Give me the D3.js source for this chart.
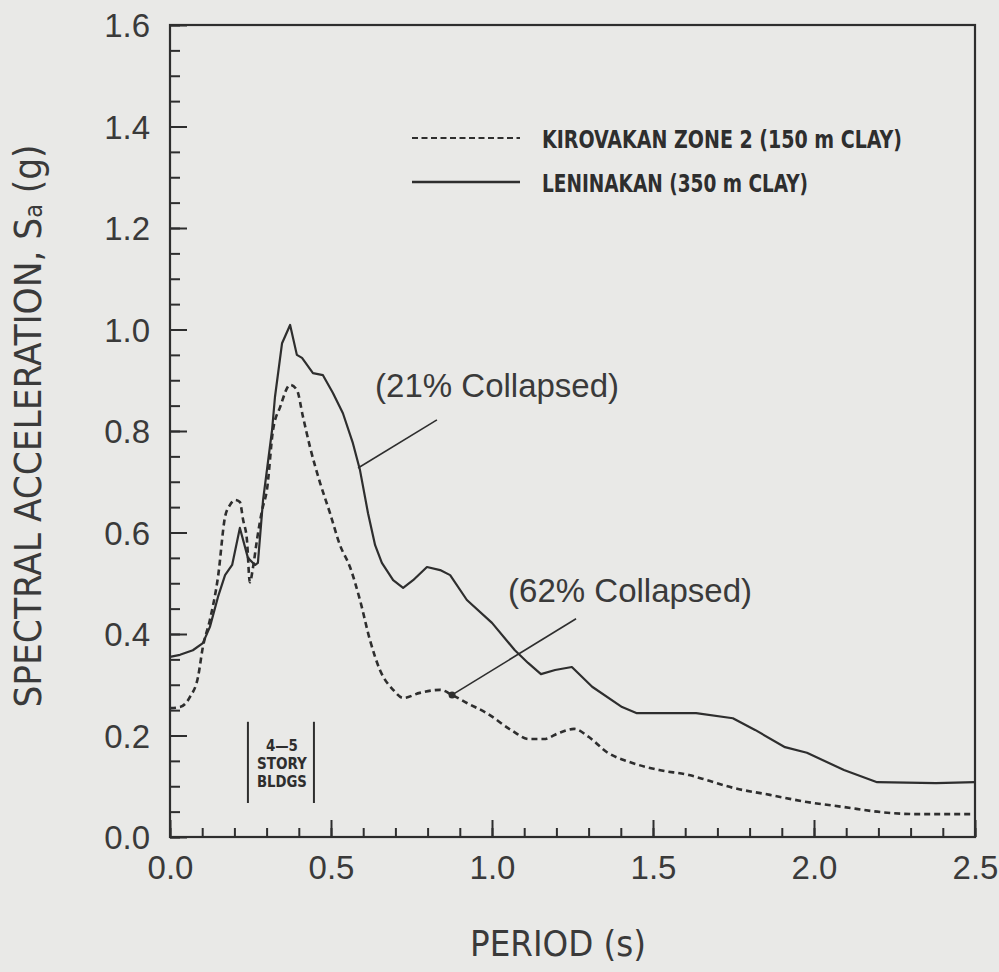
<!DOCTYPE html>
<html>
<head>
<meta charset="utf-8">
<script src="https://cdn.jsdelivr.net/npm/d3@7"></script>
<style>
  html, body { margin: 0; background: #e9e9e7; }
  svg { display: block; }
</style>
</head>
<body>
<div id="chart"></div>
<script>
// Leninakan (350 m clay) - solid
const leninakanT = [0, 0.031, 0.071, 0.102, 0.124, 0.149, 0.171, 0.193, 0.217, 0.242, 0.264, 0.273,
  0.289, 0.317, 0.326, 0.348, 0.373, 0.394, 0.41, 0.444, 0.475, 0.506, 0.537, 0.568, 0.59, 0.615,
  0.637, 0.658, 0.693, 0.724, 0.755, 0.798, 0.839, 0.87, 0.922, 1.0, 1.071, 1.112, 1.152, 1.196,
  1.248, 1.311, 1.404, 1.45, 1.519, 1.634, 1.748, 1.817, 1.91, 1.978, 2.093, 2.196, 2.379, 2.5];
const leninakanSa = [0.355, 0.359, 0.368, 0.382, 0.414, 0.473, 0.516, 0.536, 0.609, 0.55, 0.536, 0.54,
  0.664, 0.802, 0.867, 0.973, 1.009, 0.95, 0.944, 0.914, 0.91, 0.875, 0.835, 0.776, 0.723, 0.638,
  0.575, 0.54, 0.506, 0.491, 0.506, 0.532, 0.526, 0.516, 0.467, 0.422, 0.368, 0.343, 0.321, 0.329,
  0.335, 0.296, 0.256, 0.244, 0.244, 0.244, 0.234, 0.211, 0.177, 0.166, 0.132, 0.108, 0.106, 0.108];

// Kirovakan zone 2 (150 m clay) - dashed
const kirovakanT = [0, 0.031, 0.062, 0.087, 0.102, 0.124, 0.149, 0.171, 0.186, 0.202, 0.217, 0.227,
  0.239, 0.248, 0.258, 0.27, 0.286, 0.301, 0.32, 0.342, 0.373, 0.394, 0.413, 0.435, 0.466, 0.497,
  0.528, 0.559, 0.59, 0.621, 0.652, 0.693, 0.724, 0.776, 0.839, 0.876, 0.922, 0.984, 1.059, 1.115,
  1.161, 1.208, 1.255, 1.301, 1.357, 1.426, 1.519, 1.612, 1.668, 1.748, 1.863, 1.978, 2.093, 2.208,
  2.323, 2.5];
const kirovakanSa = [0.254, 0.256, 0.276, 0.315, 0.374, 0.428, 0.512, 0.631, 0.654, 0.664, 0.66, 0.625,
  0.585, 0.502, 0.532, 0.585, 0.644, 0.684, 0.802, 0.847, 0.891, 0.881, 0.828, 0.768, 0.698, 0.638,
  0.575, 0.532, 0.467, 0.388, 0.329, 0.29, 0.274, 0.284, 0.29, 0.28, 0.264, 0.244, 0.211, 0.193,
  0.193, 0.205, 0.213, 0.197, 0.167, 0.148, 0.132, 0.122, 0.112, 0.097, 0.083, 0.069, 0.059, 0.049,
  0.045, 0.045];

const yTicks = [0, 0.2, 0.4, 0.6, 0.8, 1.0, 1.2, 1.4, 1.6];
const xTicks = [0, 0.5, 1.0, 1.5, 2.0, 2.5];
const legendLabels = ["KIROVAKAN ZONE 2 (150 m CLAY)", "LENINAKAN (350 m CLAY)"];
const storyRange = [0.242, 0.447];
const storyLabels = ["4\u20145", "STORY", "BLDGS"];
// annotation: label start [T, Sa], leader from [T, Sa] to [T, Sa]
const notes = [
  { text: "(21% Collapsed)", at: [0.637, 0.867], from: [0.584, 0.727], to: [0.829, 0.822], dot: false },
  { text: "(62% Collapsed)", at: [1.05, 0.463], from: [0.876, 0.28], to: [1.261, 0.43], dot: true }
];

const width = 999, height = 972;
const ink = "#2e2e2e";

const x = d3.scaleLinear().domain([0, 2.5]).range([170, 975]);
const y = d3.scaleLinear().domain([0, 1.6]).range([837, 25]);

const svg = d3.select("#chart").append("svg")
  .attr("width", width).attr("height", height);

// minor ticks
svg.append("g")
  .attr("transform", "translate(" + x(0) + ",0)")
  .call(d3.axisLeft(y).tickValues(d3.range(0, 1.6001, 0.05)).tickSize(-10).tickSizeOuter(0).tickFormat(""))
  .call(g => g.select(".domain").remove());
svg.append("g")
  .attr("transform", "translate(0," + y(0) + ")")
  .call(d3.axisBottom(x).tickValues(d3.range(0, 2.5001, 0.1)).tickSize(-9).tickSizeOuter(0).tickFormat(""))
  .call(g => g.select(".domain").remove());

// major ticks + labels
let yAxis = svg.append("g")
  .attr("transform", "translate(" + x(0) + ",0)")
  .call(d3.axisLeft(y).tickValues(yTicks).tickSize(-17).tickSizeOuter(0).tickPadding(20).tickFormat(d3.format(".1f")));
let xAxis = svg.append("g")
  .attr("transform", "translate(0," + y(0) + ")")
  .call(d3.axisBottom(x).tickValues(xTicks).tickSize(-17).tickSizeOuter(0).tickPadding(19).tickFormat(d3.format(".1f")));

[yAxis, xAxis].forEach(g => {
  g.select(".domain").remove();
  g.selectAll("text")
    .attr("fill", "#3a3a3a")
    .style("font-family", "'Liberation Sans', Arial, sans-serif")
    .style("font-size", "33px");
});
svg.selectAll(".tick line").attr("stroke", ink).attr("stroke-width", 2);
yAxis.selectAll("text").attr("dy", "0.36em");

// frame
svg.append("rect")
  .attr("x", x(0)).attr("y", y(1.6))
  .attr("width", x(2.5) - x(0)).attr("height", y(0) - y(1.6))
  .attr("fill", "none").attr("stroke", ink).attr("stroke-width", 2.2);

// curves
const line = d3.line().x(d => x(d[0])).y(d => y(d[1]));
svg.append("path")
  .datum(d3.zip(leninakanT, leninakanSa))
  .attr("d", line)
  .attr("fill", "none").attr("stroke", ink).attr("stroke-width", 2.2)
  .attr("stroke-linejoin", "round");
svg.append("path")
  .datum(d3.zip(kirovakanT, kirovakanSa))
  .attr("d", line.curve(d3.curveMonotoneX))
  .attr("fill", "none").attr("stroke", ink).attr("stroke-width", 2.6)
  .attr("stroke-dasharray", "6,4");

// story range marks
svg.selectAll(".story")
  .data(storyRange)
  .enter().append("line")
  .attr("x1", d => x(d)).attr("x2", d => x(d))
  .attr("y1", y(0.227)).attr("y2", y(0.067))
  .attr("stroke", ink).attr("stroke-width", 2);
svg.selectAll(".storyText")
  .data(storyLabels)
  .enter().append("text")
  .attr("x", x(d3.mean(storyRange)) + 1)
  .attr("y", (d, i) => y(0.17) + i * 18)
  .attr("text-anchor", "middle")
  .attr("fill", ink)
  .style("font-family", "'DejaVu Sans Condensed', 'DejaVu Sans', sans-serif")
  .style("font-weight", "bold")
  .style("font-size", "15px")
  .attr("textLength", (d, i) => i === 0 ? 32 : 50)
  .attr("lengthAdjust", "spacingAndGlyphs")
  .text(d => d);

// annotations
notes.forEach(n => {
  svg.append("line")
    .attr("x1", x(n.from[0])).attr("y1", y(n.from[1]))
    .attr("x2", x(n.to[0])).attr("y2", y(n.to[1]))
    .attr("stroke", ink).attr("stroke-width", 1.6);
  if (n.dot) {
    svg.append("circle").attr("cx", x(n.from[0])).attr("cy", y(n.from[1])).attr("r", 3.5).attr("fill", ink);
  }
  svg.append("text")
    .attr("x", x(n.at[0])).attr("y", y(n.at[1]))
    .attr("fill", "#3a3a3a")
    .style("font-family", "'Liberation Sans', Arial, sans-serif")
    .style("font-size", "33px")
    .text(n.text);
});

// legend
const legend = svg.append("g");
const legendRows = [
  { y: 138, dash: "6,3.5", label: legendLabels[0], len: 360 },
  { y: 182, dash: null, label: legendLabels[1], len: 266 }
];
legendRows.forEach(r => {
  legend.append("line")
    .attr("x1", 412).attr("x2", 520).attr("y1", r.y).attr("y2", r.y)
    .attr("stroke", ink).attr("stroke-width", r.dash ? 2 : 2.4)
    .attr("stroke-dasharray", r.dash);
  legend.append("text")
    .attr("x", 542).attr("y", r.y + 2)
    .attr("dominant-baseline", "central")
    .attr("fill", ink)
    .style("font-family", "'DejaVu Sans Condensed', 'DejaVu Sans', sans-serif")
    .style("font-weight", "bold")
    .style("font-size", "24px")
    .attr("textLength", r.len)
    .attr("lengthAdjust", "spacingAndGlyphs")
    .text(r.label);
});

// axis titles
const yTitle = svg.append("text")
  .attr("transform", "translate(28,426) rotate(-90)")
  .attr("text-anchor", "middle")
  .attr("dominant-baseline", "central")
  .attr("fill", "#3a3a3a")
  .style("font-family", "'Liberation Sans Narrow', 'DejaVu Sans Condensed', sans-serif")
  .style("font-size", "37px")
  .attr("textLength", 563)
  .attr("lengthAdjust", "spacingAndGlyphs");
yTitle.append("tspan").text("SPECTRAL ACCELERATION, S");
yTitle.append("tspan").attr("baseline-shift", "-25%").style("font-size", "24px").text("a");
yTitle.append("tspan").text(" (g)");

svg.append("text")
  .attr("x", 558).attr("y", 944)
  .attr("text-anchor", "middle")
  .attr("dominant-baseline", "central")
  .attr("fill", "#3a3a3a")
  .style("font-family", "'Liberation Sans Narrow', 'DejaVu Sans Condensed', sans-serif")
  .style("font-size", "35px")
  .attr("textLength", 176)
  .attr("lengthAdjust", "spacingAndGlyphs")
  .text("PERIOD (s)");
</script>
</body>
</html>
